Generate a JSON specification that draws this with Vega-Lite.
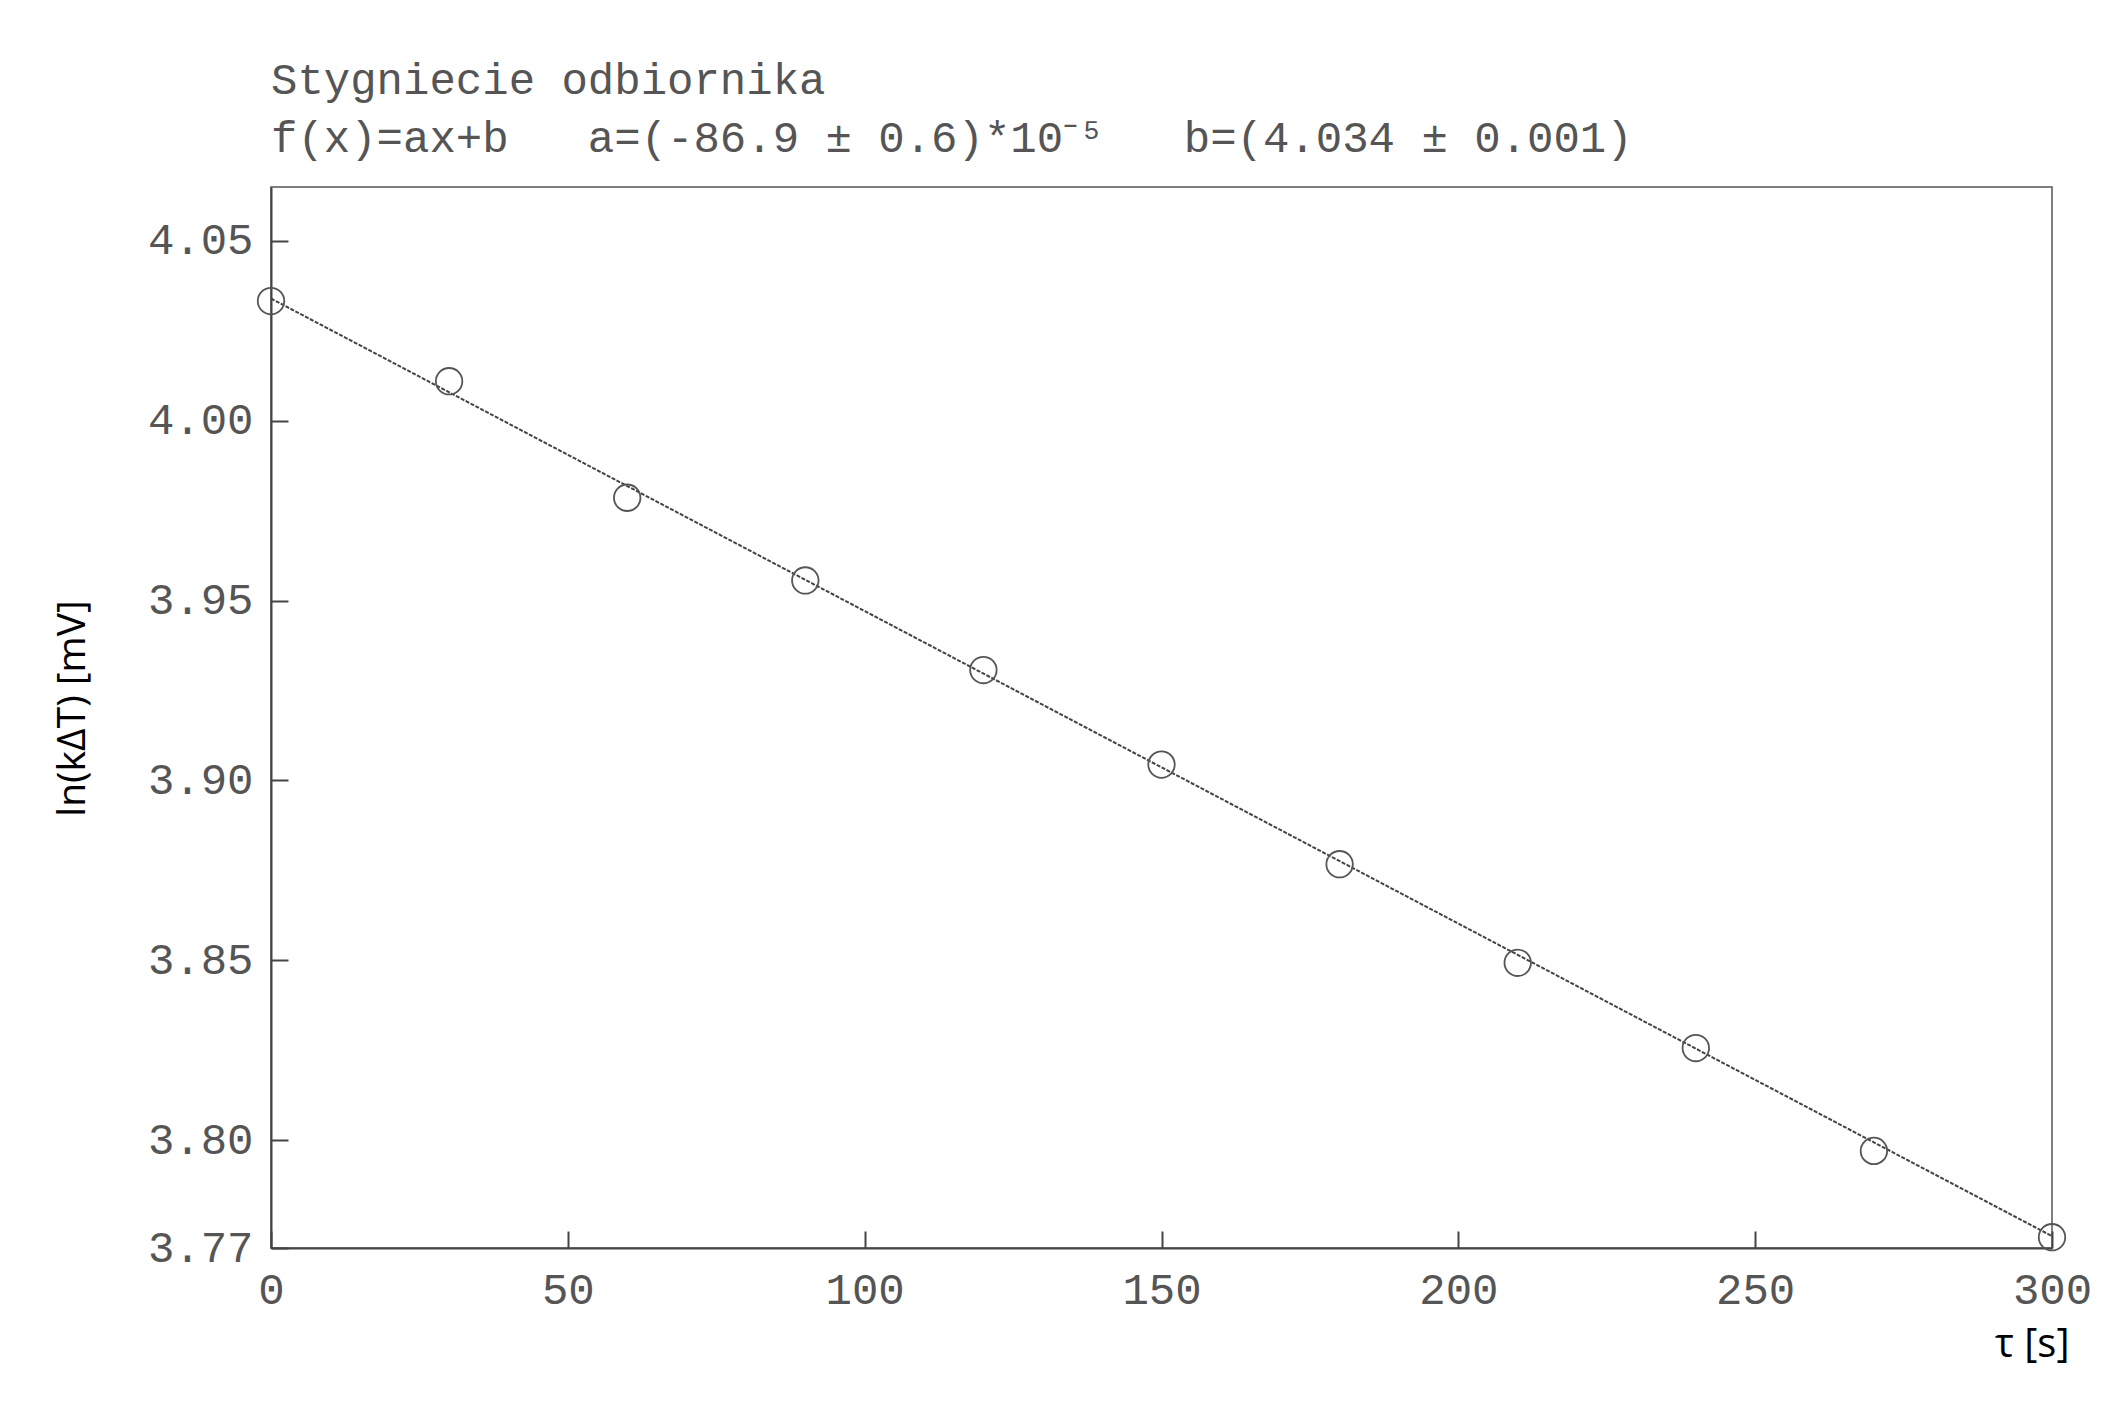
{
  "$schema": "https://vega.github.io/schema/vega-lite/v6.json",
  "width": 1781,
  "height": 1061,
  "autosize": "none",
  "padding": {"left": 271, "top": 187, "right": 72, "bottom": 169},
  "background": "white",
  "config": {
    "view": {"stroke": "#555", "strokeWidth": 1.5},
    "axis": {
      "grid": false,
      "domainColor": "#444",
      "domainWidth": 2,
      "tickColor": "#444",
      "tickWidth": 2,
      "tickSize": 17,
      "labelFont": "Liberation Mono",
      "labelFontSize": 44,
      "labelColor": "#555",
      "titleFont": "Open Sans",
      "titleFontWeight": "normal",
      "titleColor": "#000"
    }
  },
  "title": {
    "text": ["Stygniecie odbiornika", "f(x)=ax+b\u00a0\u00a0\u00a0a=(-86.9\u00a0±\u00a00.6)*10⁻⁵\u00a0\u00a0\u00a0b=(4.034\u00a0±\u00a00.001)"],
    "anchor": "start",
    "frame": "group",
    "font": "Liberation Mono",
    "fontSize": 44,
    "fontWeight": "normal",
    "color": "#555",
    "lineHeight": 58,
    "offset": 26
  },
  "datasets": {
    "points": [
      {"t": 0, "v": 4.0333},
      {"t": 30, "v": 4.0110},
      {"t": 60, "v": 3.9786},
      {"t": 90, "v": 3.9556},
      {"t": 120, "v": 3.9307},
      {"t": 150, "v": 3.9044},
      {"t": 180, "v": 3.8767},
      {"t": 210, "v": 3.8493},
      {"t": 240, "v": 3.8256},
      {"t": 270, "v": 3.7970},
      {"t": 300, "v": 3.7730}
    ],
    "fit": [
      {"t": 0, "v": 4.034},
      {"t": 300, "v": 3.7733}
    ]
  },
  "resolve": {"axis": {"x": "independent", "y": "independent"}},
  "layer": [
    {
      "data": {"name": "fit"},
      "mark": {"type": "line", "color": "#444", "strokeWidth": 2, "strokeDash": [4, 1.5], "clip": true},
      "encoding": {
        "x": {
          "field": "t",
          "type": "quantitative",
          "scale": {"domain": [0, 300], "nice": false, "zero": false},
          "axis": {
            "orient": "top",
            "offset": -1061,
            "values": [0, 50, 100, 150, 200, 250, 300],
            "labels": false,
            "domain": false,
            "ticks": true,
            "title": null
          }
        },
        "y": {
          "field": "v",
          "type": "quantitative",
          "scale": {"domain": [3.77, 4.065], "nice": false, "zero": false},
          "axis": {
            "orient": "right",
            "offset": -1781,
            "values": [3.77, 3.8, 3.85, 3.9, 3.95, 4.0, 4.05],
            "labels": false,
            "domain": false,
            "ticks": true,
            "title": null
          }
        }
      }
    },
    {
      "data": {"name": "points"},
      "mark": {"type": "point", "shape": "circle", "filled": false, "size": 700, "stroke": "#555", "strokeWidth": 1.8, "opacity": 1},
      "encoding": {
        "x": {
          "field": "t",
          "type": "quantitative",
          "scale": {"domain": [0, 300], "nice": false, "zero": false},
          "axis": {
            "orient": "bottom",
            "values": [0, 50, 100, 150, 200, 250, 300],
            "ticks": false,
            "labelPadding": 20,
            "labelFlush": false,
            "labelOverlap": false,
            "title": "τ [s]",
            "titleFontSize": 40,
            "titleAnchor": "end",
            "titleAlign": "right",
            "titleX": 1798,
            "titleY": 108,
            "titleBaseline": "alphabetic"
          }
        },
        "y": {
          "field": "v",
          "type": "quantitative",
          "scale": {"domain": [3.77, 4.065], "nice": false, "zero": false},
          "axis": {
            "orient": "left",
            "values": [3.77, 3.8, 3.85, 3.9, 3.95, 4.0, 4.05],
            "format": ".2f",
            "ticks": false,
            "labelPadding": 18,
            "labelFlush": false,
            "labelOverlap": false,
            "title": "ln(kΔT) [mV]",
            "titleFontSize": 39,
            "titlePadding": 55,
            "titleY": 521,
            "titleAlign": "center"
          }
        }
      }
    }
  ]
}
